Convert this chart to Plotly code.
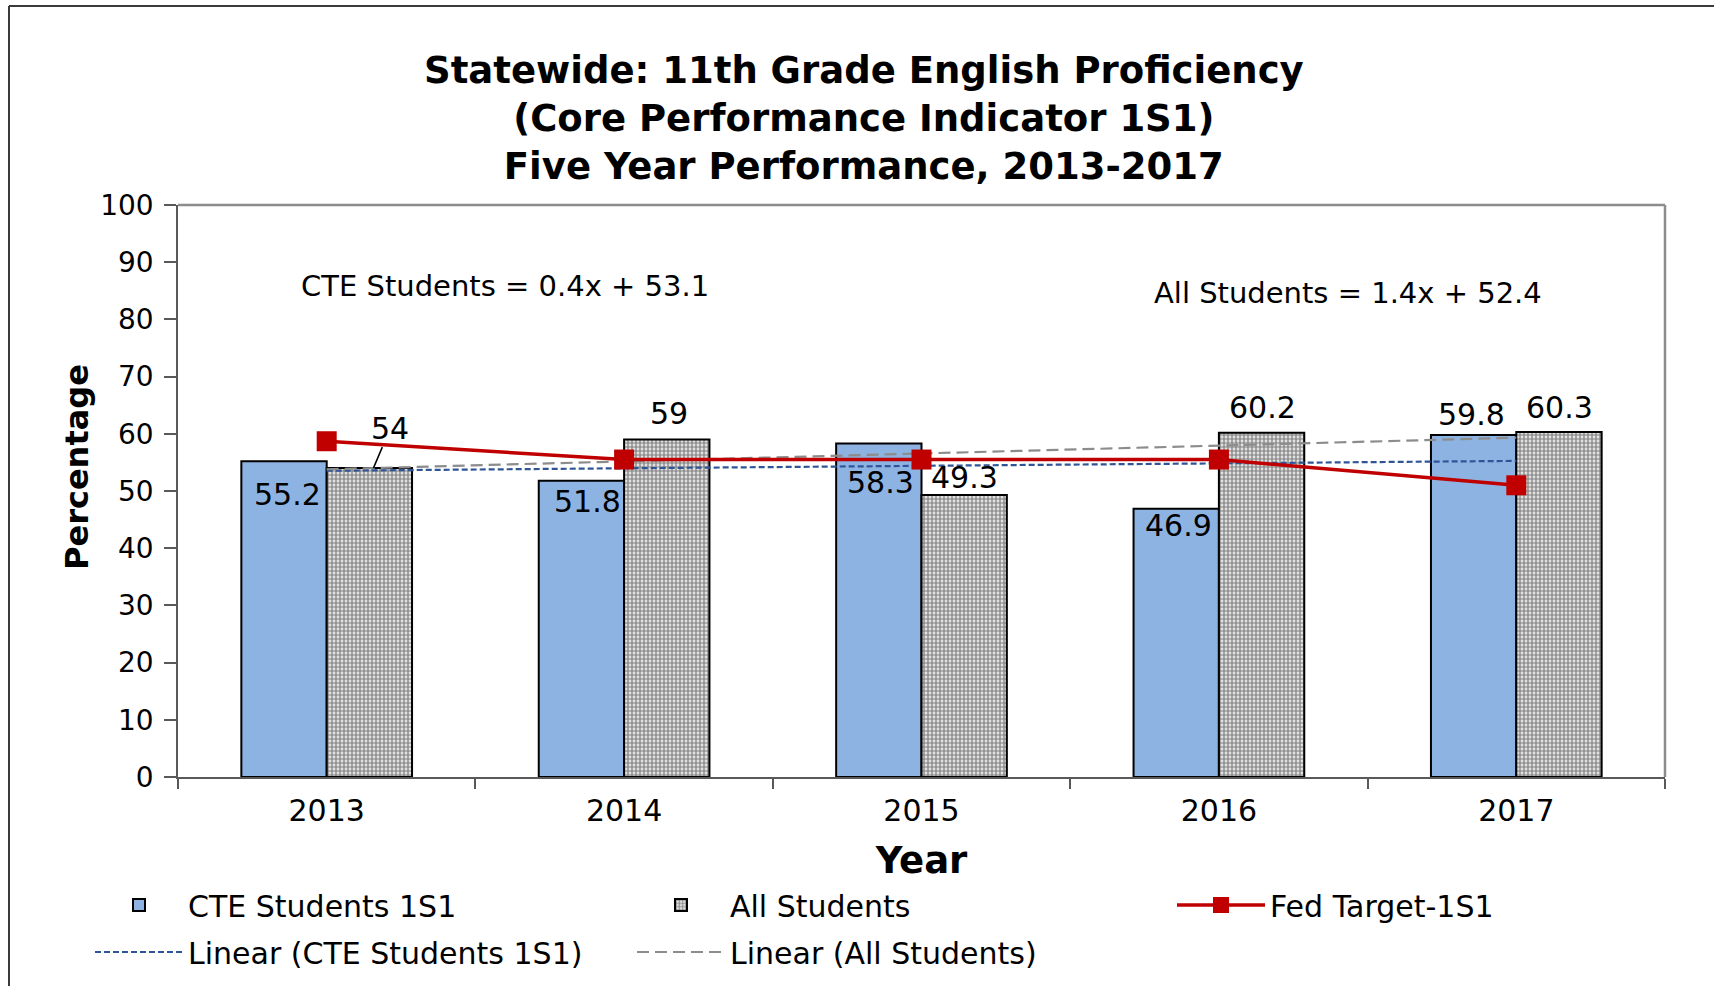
import numpy as np
import plotly.graph_objects as go

# ---------------- data ----------------
years = ["2013", "2014", "2015", "2016", "2017"]
cte_students = [55.2, 51.8, 58.3, 46.9, 59.8]
all_students = [54.0, 59.0, 49.3, 60.2, 60.3]
fed_target = [58.7, 55.5, 55.5, 55.5, 51.0]
y_ticks = [0, 10, 20, 30, 40, 50, 60, 70, 80, 90, 100]

# linear trendlines (least squares over category index 1..5, as the chart's Excel trendlines)
idx = np.arange(1, len(years) + 1)
cte_fit = np.polyfit(idx, cte_students, 1)
all_fit = np.polyfit(idx, all_students, 1)
cte_trend = np.polyval(cte_fit, idx).tolist()
all_trend = np.polyval(all_fit, idx).tolist()

# ---------------- layout constants ----------------
W, H = 1714, 986
ML, MR, MT, MB = 178, 49, 205, 209
PW, PH = W - ML - MR, H - MT - MB
FONT = "DejaVu Sans"
BAR_SHIFT = 42.7  # px half-offset of a bar within its group


def px_x(px):
    return (px - ML) / PW


def px_y(py):
    return (H - MB - py) / PH


fig = go.Figure()

fig.add_trace(go.Bar(
    x=years, y=cte_students, name="CTE Students 1S1",
    marker=dict(color="#8DB3E2", line=dict(color="#000000", width=2)),
    legend="legend", legendgroup="a", hoverinfo="y",
))
fig.add_trace(go.Bar(
    x=years, y=all_students, name="All Students",
    marker=dict(color="white", line=dict(color="#000000", width=2),
                pattern=dict(shape=".", fgcolor="#262626", bgcolor="white",
                             size=4, solidity=0.7)),
    legend="legend2", legendgroup="b", hoverinfo="y",
))
fig.add_trace(go.Scatter(
    x=years, y=cte_trend, mode="lines", name="Linear (CTE Students 1S1)",
    line=dict(color="#2F5597", width=2.2, dash="6px,3px"),
    legend="legend", legendgroup="c",
))
fig.add_trace(go.Scatter(
    x=years, y=all_trend, mode="lines", name="Linear (All Students)",
    line=dict(color="#8C8C8C", width=2.2, dash="12px,6px"),
    legend="legend2", legendgroup="d",
))
fig.add_trace(go.Scatter(
    x=years, y=fed_target, mode="lines+markers", name="Fed Target-1S1",
    line=dict(color="#C00000", width=3.5),
    marker=dict(symbol="square", size=20, color="#C00000"),
    legend="legend3", legendgroup="e",
))

# ---------------- data labels ----------------
lab_font = dict(family=FONT, size=30, color="#000000")
cte_label_dy = [-33, -21, -39, -17, 20]
cte_label_dx = [3, 6, 2, 2, -2]
all_label_dy = [None, 26, 18, 25, 25]
all_label_dx = [0, 2, 0, 1, 0]
ann = []
for i, yr in enumerate(years):
    # numeric x = category index on the category axis
    ann.append(dict(x=i, y=cte_students[i], xref="x", yref="y",
                    text=f"{cte_students[i]:g}", showarrow=False,
                    xanchor="center", yanchor="middle",
                    xshift=-BAR_SHIFT + cte_label_dx[i], yshift=cte_label_dy[i],
                    font=lab_font))
    if all_label_dy[i] is None:
        ann.append(dict(x=i, y=all_students[i], xref="x", yref="y",
                        text=f"{all_students[i]:g}", showarrow=True,
                        arrowhead=0, arrowwidth=1.5, arrowcolor="#000000",
                        ax=17, ay=-40, xshift=BAR_SHIFT + 4,
                        font=lab_font))
    else:
        ann.append(dict(x=i, y=all_students[i], xref="x", yref="y",
                        text=f"{all_students[i]:g}", showarrow=False,
                        xanchor="center", yanchor="middle",
                        xshift=BAR_SHIFT + all_label_dx[i], yshift=all_label_dy[i],
                        font=lab_font))

# trendline equations
eq_font = dict(family=FONT, size=29, color="#000000")
ann.append(dict(x=px_x(505), y=px_y(286), xref="paper", yref="paper",
                xanchor="center", yanchor="middle",
                text=f"CTE Students = {cte_fit[0]:.1f}x + {cte_fit[1]:.1f}",
                showarrow=False, font=eq_font))
ann.append(dict(x=px_x(1348), y=px_y(293), xref="paper", yref="paper",
                xanchor="center", yanchor="middle",
                text=f"All Students = {all_fit[0]:.1f}x + {all_fit[1]:.1f}",
                showarrow=False, font=eq_font))

# y-axis title (placed where the reference puts it, slightly above the axis middle)
ann.append(dict(x=px_x(77), y=px_y(467), xref="paper", yref="paper",
                xanchor="center", yanchor="middle", textangle=-90,
                text="Percentage", showarrow=False,
                font=dict(family=FONT, size=32, color="#000000", weight="bold")))

shapes = [
    # plot-area box (top & right)
    dict(type="line", xref="paper", yref="paper", x0=0, x1=1, y0=1, y1=1,
         line=dict(color="#8C8C8C", width=2.5)),
    dict(type="line", xref="paper", yref="paper", x0=1, x1=1, y0=0, y1=1,
         line=dict(color="#8C8C8C", width=2.5)),
    # outer picture frame (top & left)
    dict(type="line", xref="paper", yref="paper", x0=px_x(9), x1=px_x(W), y0=px_y(6), y1=px_y(6),
         line=dict(color="#3a3a3a", width=2)),
    dict(type="line", xref="paper", yref="paper", x0=px_x(9), x1=px_x(9), y0=px_y(6), y1=px_y(H),
         line=dict(color="#3a3a3a", width=2)),
]

leg_common = dict(orientation="v", font=dict(family=FONT, size=30, color="#000000"),
                  bgcolor="rgba(0,0,0,0)", borderwidth=0, itemwidth=88,
                  tracegroupgap=5, xanchor="left", yanchor="top",
                  itemclick=False, itemdoubleclick=False)

fig.update_layout(
    width=W, height=H,
    margin=dict(l=ML, r=MR, t=MT, b=MB, autoexpand=False),
    paper_bgcolor="white", plot_bgcolor="white",
    font=dict(family=FONT, size=30, color="#000000"),
    title=dict(text="Statewide: 11th Grade English Proficiency<br>(Core Performance Indicator 1S1)<br>Five Year Performance, 2013-2017",
               x=0.504, xref="container", xanchor="center",
               y=1 - 82.5 / H, yref="container", yanchor="middle",
               font=dict(family=FONT, size=37, color="#000000", weight="bold")),
    barmode="group", bargap=0.426, bargroupgap=0,
    xaxis=dict(type="category", range=[-0.5, 4.5], autorange=False,
               showline=True, linecolor="#595959", linewidth=1.5,
               ticks="outside", tickson="boundaries", ticklen=10, tickcolor="#595959",
               tickwidth=1.5, showgrid=False, zeroline=False, tickangle=0,
               tickfont=dict(family=FONT, size=30, color="#000000"),
               ticklabelstandoff=6,
               title=dict(text="Year", standoff=20,
                          font=dict(family=FONT, size=37, color="#000000", weight="bold"))),
    yaxis=dict(range=[0, 100], autorange=False, tickvals=y_ticks, showline=True,
               linecolor="#595959", linewidth=1.5, ticks="outside", ticklen=12,
               tickcolor="#595959", tickwidth=1.5, showgrid=False, zeroline=False,
               tickfont=dict(family=FONT, size=28, color="#000000"),
               ticklabelstandoff=5),
    legend=dict(x=px_x(90), y=px_y(879), **leg_common),
    legend2=dict(x=px_x(632), y=px_y(879), **leg_common),
    legend3=dict(x=px_x(1172), y=px_y(879), **leg_common),
    annotations=ann,
    shapes=shapes,
    showlegend=True,
)

fig.write_html("out.html", config={"displayModeBar": False},
               post_script="document.body.style.margin='0';")
